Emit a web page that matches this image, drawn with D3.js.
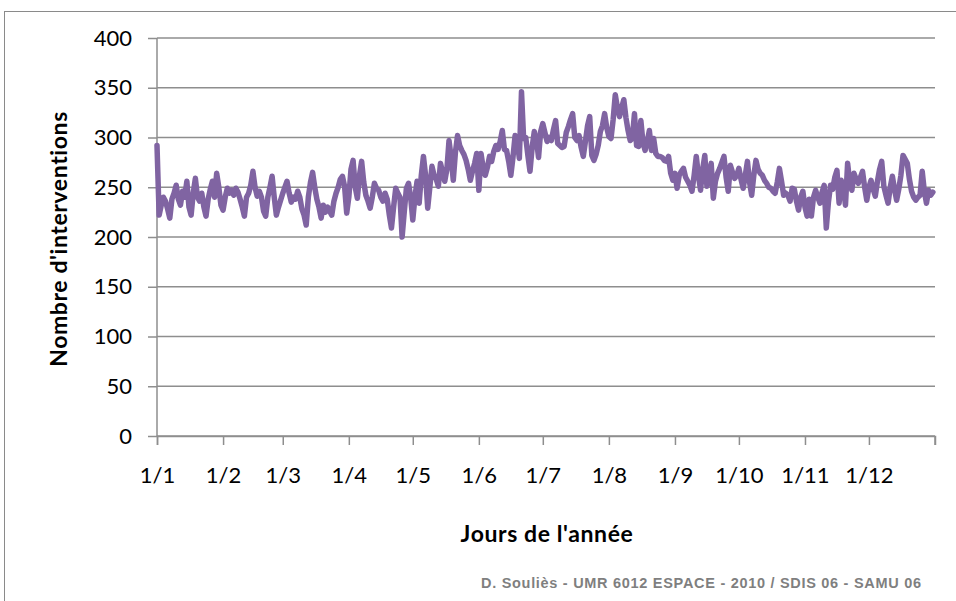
<!DOCTYPE html>
<html>
<head>
<meta charset="utf-8">
<script src="https://cdn.jsdelivr.net/npm/d3@7"></script>
<style>
  html, body { margin: 0; padding: 0; background: #fff; }
  svg { display: block; }
</style>
</head>
<body>
<svg id="chart" width="956" height="601"></svg>
<script>
// ---- Data (daily interventions) ----
const jan = [292,222,232,240,236,228,219,238,244,252,238,232,246,240,256,230,222,244,259,240,236,244,230,221,238,248,256,240,264,250,232];
const feb = [227,240,249,244,247,242,249,245,238,230,221,240,244,252,266,250,241,246,240,226,221,240,250,261,240,222,230,237];
const mar = [244,250,256,244,235,240,238,246,240,228,222,212,240,255,265,250,238,230,219,232,225,230,226,222,236,244,250,258,261,251,224];
const apr = [240,268,277,250,239,262,276,255,242,236,229,240,254,249,247,240,236,244,238,222,209,230,249,244,240,200,225,249,254,240];
const may = [217,240,256,234,262,281,262,229,250,271,262,258,251,274,265,256,268,297,280,257,285,302,292,287,283,277,268,257,266,274,284];
const jun = [247,284,270,262,270,281,276,286,292,288,296,307,288,287,276,262,280,302,296,279,346,299,300,282,266,290,306,298,280,306];
const jul = [314,305,296,300,297,308,317,294,292,290,291,305,311,318,324,300,297,302,290,281,296,312,321,282,277,283,292,306,312,324,310];
const aug = [301,299,318,343,330,321,330,338,320,307,297,299,324,292,291,317,295,287,296,307,287,299,284,281,281,280,277,276,281,264,257];
const sep = [264,249,262,266,269,260,256,252,246,262,281,262,247,268,282,251,262,274,239,256,264,269,275,281,260,246,272,265,259,262];
const oct = [269,258,249,262,276,255,242,262,277,268,264,262,257,254,250,249,246,244,255,269,256,242,244,242,236,249,248,236,227,240,246];
const nov = [230,221,238,221,240,247,240,234,245,252,209,235,252,248,260,267,234,257,250,232,274,255,247,264,258,254,260,266,250,237];
const dec = [250,257,248,241,256,268,276,251,242,234,250,261,248,237,248,262,282,278,274,258,246,240,237,240,242,266,246,234,247,242,245];

const monthLabels = ["1/1","1/2","1/3","1/4","1/5","1/6","1/7","1/8","1/9","1/10","1/11","1/12"];
const monthLengths = [31,28,31,30,31,30,31,31,30,31,30,31];
const yTicks = [0,50,100,150,200,250,300,350,400];

const yTitle = "Nombre d'interventions";
const xTitle = "Jours de l'année";
const footer = "D. Souliès - UMR 6012 ESPACE - 2010 / SDIS 06 - SAMU 06";

const values = [].concat(jan, feb, mar, apr, may, jun, jul, aug, sep, oct, nov, dec);
const monthStarts = monthLengths.reduce((acc, n, i) => { acc.push(i === 0 ? 0 : acc[i-1] + monthLengths[i-1]); return acc; }, []);

// ---- Drawing ----
const svg = d3.select("#chart");
const gridColor = "#8e8e8e";
const fontFam = "Lato, 'Open Sans', sans-serif";

// outer frame
svg.append("rect")
  .attr("x", 4.5).attr("y", 11.5)
  .attr("width", 1000).attr("height", 700)
  .attr("fill", "none").attr("stroke", "#8a8a8a").attr("stroke-width", 1);

const x = d3.scaleLinear().domain([0, 365]).range([157, 935]);
const y = d3.scaleLinear().domain([0, 400]).range([436, 38]);

// horizontal gridlines + y axis
const yAxis = d3.axisLeft(y).tickValues(yTicks).tickSize(9).tickPadding(16).tickFormat(d3.format("d"));
const gy = svg.append("g").attr("transform", `translate(${x(0)},0)`).call(yAxis);
gy.select(".domain").remove();
gy.selectAll(".tick line").attr("stroke", gridColor).attr("stroke-width", 1.5);
gy.selectAll(".tick text").attr("font-family", fontFam).attr("font-size", 22).attr("fill", "#000");

svg.append("g").selectAll("line").data(yTicks).join("line")
  .attr("x1", x(0)).attr("x2", x(365))
  .attr("y1", d => y(d)).attr("y2", d => y(d))
  .attr("stroke", gridColor).attr("stroke-width", 1.5);

// y axis line
svg.append("line")
  .attr("x1", x(0)).attr("x2", x(0))
  .attr("y1", y(400)).attr("y2", y(0))
  .attr("stroke", gridColor).attr("stroke-width", 1.5);

// x axis
const xAxis = d3.axisBottom(x).tickValues(monthStarts).tickSize(9).tickPadding(22)
  .tickFormat((d, i) => monthLabels[i]);
const gx = svg.append("g").attr("transform", `translate(0,${y(0)})`).call(xAxis);
gx.select(".domain").attr("stroke", gridColor).attr("stroke-width", 1.5);
gx.selectAll(".tick line").attr("stroke", gridColor).attr("stroke-width", 1.5);
gx.selectAll(".tick text").attr("font-family", fontFam).attr("font-size", 22).attr("fill", "#000");
// end tick
svg.append("line")
  .attr("x1", x(365)).attr("x2", x(365))
  .attr("y1", y(0)).attr("y2", y(0) + 9)
  .attr("stroke", gridColor).attr("stroke-width", 1.5);

// series line
const line = d3.line().x((d, i) => x(i)).y(d => y(d));
svg.append("path")
  .datum(values)
  .attr("d", line)
  .attr("fill", "none")
  .attr("stroke", "#8064A2")
  .attr("stroke-width", 5.5)
  .attr("stroke-linejoin", "round")
  .attr("stroke-linecap", "round");

// titles
svg.append("text")
  .attr("transform", `translate(67,${(y(0)+y(400))/2 + 2}) rotate(-90)`)
  .attr("text-anchor", "middle")
  .attr("font-family", fontFam).attr("font-weight", "bold").attr("font-size", 23)
  .attr("letter-spacing", 0.6)
  .text(yTitle);

svg.append("text")
  .attr("x", 547).attr("y", 542)
  .attr("text-anchor", "middle")
  .attr("font-family", fontFam).attr("font-weight", "bold").attr("font-size", 23)
  .attr("letter-spacing", 0.6)
  .text(xTitle);

svg.append("text")
  .attr("x", 921).attr("y", 588)
  .attr("text-anchor", "end")
  .attr("font-family", "'Liberation Sans', Arial, sans-serif").attr("font-weight", "bold").attr("font-size", 14.5)
  .attr("textLength", 440).attr("lengthAdjust", "spacing")
  .attr("fill", "#7f7f7f")
  .text(footer);
</script>
</body>
</html>
